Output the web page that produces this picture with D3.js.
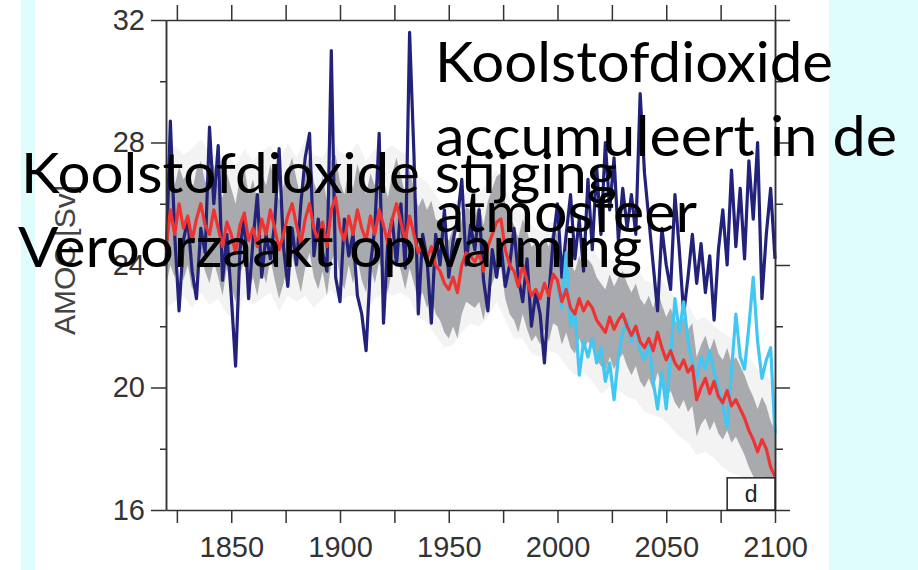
<!DOCTYPE html>
<html>
<head>
<meta charset="utf-8">
<script src="https://cdn.jsdelivr.net/npm/d3@7"></script>
<style>
  body { margin: 0; background: #fff; }
  svg { display: block; }
</style>
</head>
<body>
<svg id="chart"></svg>
<script>
// AMOC strength [Sv] (2-year steps unless noted)
const years = d3.range(1820, 2101, 2);
const yearsOuter = d3.range(1820, 2101, 4);
const yearsProj = d3.range(2000, 2101, 2);

const modelRun = [
  24.0, 28.7, 25.0, 22.5, 24.8, 25.5, 23.8, 22.9, 25.2, 24.4,
  28.5, 26.0, 27.9, 23.5, 25.0, 23.0, 20.7, 24.5, 25.6, 22.9,
  24.8, 26.3, 23.6, 25.0, 24.2, 25.4, 27.8, 24.6, 23.3, 25.2,
  24.0, 26.0, 27.5, 28.3, 24.3, 25.5, 24.4, 23.8, 31.0, 23.6,
  22.8, 25.5, 24.3, 25.0, 23.0, 22.4, 21.2, 24.0, 25.2, 28.3,
  22.1, 24.8, 25.5, 24.0, 26.0, 23.9, 31.6, 27.6, 22.4, 25.0,
  24.2, 22.1, 25.0, 24.0, 25.8, 23.6, 24.8, 25.5, 26.8, 24.0,
  25.3, 24.5, 25.8, 23.5, 22.5, 24.5, 23.6, 24.7, 23.3, 24.0,
  25.2, 23.6, 22.8, 24.2, 22.0, 23.1, 22.4, 20.8, 23.0, 24.8,
  26.0, 23.6, 25.0, 26.3, 24.2, 25.5, 23.8, 26.8, 24.5, 27.2,
  25.0, 28.0, 25.8, 27.5, 24.8, 26.5, 25.2, 26.3, 25.0, 29.6,
  27.0, 25.5, 24.0, 22.5, 25.2, 24.0, 23.2, 26.3, 24.5, 22.4,
  23.6, 25.0, 23.4, 24.7, 23.1, 24.3, 22.2, 24.5, 25.8, 24.0,
  27.1, 24.6, 26.5, 24.2, 27.4, 25.5, 28.0, 22.9, 25.0, 26.5,
  24.2
];

const ensembleMean = [
  24.5, 25.8, 25.0, 26.0, 25.2, 25.6, 24.8, 25.5, 26.0, 25.3,
  25.0, 25.8, 25.2, 24.6, 25.4, 25.0, 24.4, 25.3, 25.7, 24.8,
  25.2, 24.6, 25.5, 25.0, 25.8, 25.2, 24.5, 25.0, 25.6, 26.0,
  25.3, 24.7, 25.5, 26.0, 25.2, 24.8, 25.4, 24.6, 25.8, 26.2,
  25.2, 24.8, 25.6, 25.0, 25.8, 25.2, 24.8, 25.6, 25.0, 25.8,
  25.3, 24.7, 25.5, 26.0, 25.4, 24.8, 25.6, 25.0, 24.4, 24.7,
  24.2, 24.6, 24.0, 23.8, 23.4, 23.2, 23.6, 23.1, 24.0, 24.4,
  24.3, 24.1, 24.4, 23.8, 24.6, 25.0, 25.4, 25.5, 24.5, 24.0,
  23.8, 23.3, 24.0, 23.5, 23.0, 23.2, 22.9, 23.4, 23.0, 23.7,
  23.5, 22.8, 23.2, 22.6, 22.4, 22.9, 22.5, 22.8, 22.6, 22.2,
  22.0, 21.8, 22.3, 21.9, 22.2, 22.4, 22.0, 21.7, 22.0, 21.5,
  21.3, 21.6, 21.2, 21.8, 21.3, 20.9, 21.2, 20.8, 20.6, 20.9,
  20.5, 20.7, 19.6, 20.0, 20.3, 19.8, 20.2, 19.7, 19.5, 19.9,
  19.4, 19.6, 19.3, 19.0, 18.6, 18.3, 17.9, 18.3, 18.0, 17.4,
  17.1
];

// ensemble spread (dark gray core), 2-year steps
const spreadLow = [
  23.3, 24.0, 23.6, 24.2, 23.5, 24.0, 23.2, 23.7, 24.3, 23.8,
  23.4, 24.1, 23.6, 23.0, 23.9, 23.3, 22.8, 23.7, 24.1, 23.1,
  23.6, 23.0, 23.9, 23.4, 24.2, 23.5, 22.9, 23.4, 24.0, 24.3,
  23.7, 23.1, 23.9, 24.4, 23.6, 23.2, 23.8, 23.0, 24.1, 24.5,
  23.6, 23.2, 24.0, 23.4, 24.2, 23.5, 23.1, 24.0, 23.4, 24.1,
  23.7, 23.1, 23.9, 24.3, 23.8, 23.2, 23.9, 23.4, 22.8, 23.1,
  22.6, 23.0, 22.4, 22.2, 21.8, 21.6, 22.0, 21.6, 22.4, 22.8,
  22.7, 22.6, 22.8, 22.2, 23.0, 23.4, 23.8, 23.9, 22.9, 22.4,
  22.2, 21.8, 22.4, 21.9, 21.5, 21.7, 21.4, 21.9, 21.5, 22.1,
  22.0, 21.4, 21.8, 21.3, 21.1, 21.6, 21.2, 21.5, 21.3, 20.9,
  20.7, 20.5, 21.0, 20.6, 20.9, 21.1, 20.7, 20.4, 20.7, 20.2,
  20.0, 20.3, 19.9, 20.5, 20.0, 19.6, 19.9, 19.5, 19.3, 19.6,
  19.2, 19.4, 18.4, 18.8, 19.0, 18.6, 18.9, 18.5, 18.3, 18.6,
  18.2, 18.4, 18.1, 17.8, 17.4, 17.1, 16.8, 17.1, 16.9, 16.4,
  16.2
];
const spreadHigh = [
  26.2, 27.3, 26.6, 27.2, 26.8, 27.0, 26.4, 27.1, 27.4, 26.7,
  26.9, 27.3, 26.6, 26.2, 27.0, 26.5, 26.0, 26.9, 27.2, 26.3,
  26.8, 26.1, 27.0, 26.6, 27.3, 26.7, 26.1, 26.6, 27.1, 27.5,
  26.8, 26.2, 27.0, 27.6, 26.7, 26.3, 26.9, 26.1, 27.4, 27.6,
  26.7, 26.3, 27.1, 26.5, 27.3, 26.8, 26.3, 27.0, 26.6, 27.4,
  26.8, 26.2, 27.0, 27.5, 26.9, 26.3, 27.1, 26.5, 25.9, 26.2,
  25.8, 26.1, 25.5, 25.4, 25.0, 24.8, 25.2, 24.7, 25.5, 25.9,
  25.8, 25.6, 26.0, 25.3, 26.1, 26.5, 26.9, 27.0, 26.0, 25.6,
  25.3, 24.9, 25.5, 25.1, 24.6, 24.7, 24.5, 24.9, 24.6, 25.2,
  25.0, 24.3, 24.6, 24.0, 23.8, 24.3, 23.9, 24.2, 24.0, 23.6,
  23.4, 23.2, 23.7, 23.3, 23.6, 23.8, 23.4, 23.1, 23.4, 22.9,
  22.7, 23.0, 22.6, 23.2, 22.7, 22.3, 22.6, 22.2, 22.0, 22.3,
  21.9, 22.1, 21.0, 21.4, 21.7, 21.2, 21.6, 21.1, 20.9, 21.3,
  20.8, 21.0, 20.7, 20.4, 20.0, 19.7, 19.3, 19.7, 19.4, 18.9,
  18.6
];

// faint outer envelope of the ensemble, 4-year steps
const envelopeLow = [
  22.6, 22.8, 23.0, 22.6, 23.1, 22.7, 22.9, 22.4, 22.2, 23.0,
  22.7, 22.9, 23.1, 22.5, 23.0, 22.8, 23.0, 22.6, 22.9, 23.2,
  22.8, 23.0, 23.0, 22.4, 22.9, 23.1, 23.0, 23.1, 22.9, 22.3,
  22.1, 21.7, 21.3, 21.4, 21.8, 22.1, 22.0, 22.3, 22.8, 22.2,
  21.6, 21.6, 21.1, 21.0, 21.2, 21.1, 20.7, 20.4, 20.5, 20.2,
  19.8, 20.0, 19.9, 19.7, 19.6, 19.2, 19.1, 19.0, 18.7, 18.4,
  18.2, 17.8, 17.9, 17.7, 17.4, 17.2, 17.1, 16.7, 16.3, 16.1,
  16.0
];
const envelopeHigh = [
  27.5, 27.9, 27.6, 27.8, 28.1, 27.7, 27.5, 27.6, 27.2, 27.8,
  27.4, 27.7, 27.9, 27.3, 28.0, 27.5, 28.1, 27.6, 27.5, 28.1,
  27.7, 27.6, 28.0, 27.4, 27.8, 27.7, 27.9, 27.7, 27.6, 26.9,
  26.7, 26.3, 25.8, 26.0, 26.2, 26.6, 26.3, 26.7, 27.1, 26.5,
  25.9, 25.7, 25.3, 25.1, 25.4, 25.4, 25.1, 24.7, 24.6, 24.6,
  24.1, 24.2, 24.1, 24.1, 24.0, 23.5, 23.4, 23.5, 23.1, 22.8,
  22.7, 22.2, 22.3, 22.0, 21.8, 21.6, 21.4, 21.0, 20.6, 20.4,
  20.0
];

const projectionRun = [
  23.3, 22.6, 24.4, 22.0, 22.5, 20.4, 21.5, 21.0, 21.6, 20.8,
  21.3, 20.2, 20.8, 19.6, 21.0, 21.8, 22.2, 21.5, 22.0, 21.2,
  20.9, 21.5, 20.2, 19.3, 20.5, 19.3, 21.0, 22.9, 21.8, 22.8,
  21.5, 20.8, 20.3, 21.0, 20.6, 21.2, 20.5, 20.0, 19.4, 18.7,
  20.5, 22.4, 21.0, 20.6, 22.0, 23.6, 21.5, 20.3, 20.9, 21.3,
  18.5
];

const yMajor = [16, 20, 24, 28, 32];
const yMinor = [18, 22, 26, 30];
const xTicks = d3.range(1825, 2101, 25);
const xLabels = [1850, 1900, 1950, 2000, 2050, 2100];

const width = 918;
const height = 570;

const svg = d3.select("#chart")
  .attr("width", width)
  .attr("height", height);

// slide background
svg.append("rect").attr("width", width).attr("height", height).attr("fill", "#fff");
svg.append("rect").attr("x", 21).attr("y", 0).attr("width", 14).attr("height", height).attr("fill", "#e0fdfd");
svg.append("rect").attr("x", 829).attr("y", 0).attr("width", width - 829).attr("height", height).attr("fill", "#e0fdfd");

const x = d3.scaleLinear().domain([1820, 2100]).range([166, 775]);
const y = d3.scaleLinear().domain([16, 32]).range([510, 20]);

const area = d3.area().x(d => x(d.yr)).y0(d => y(d.lo)).y1(d => y(d.hi));

// faint envelope, then the gray spread
svg.append("path")
  .datum(yearsOuter.map((yr, i) => ({ yr, lo: envelopeLow[i], hi: envelopeHigh[i] })))
  .attr("fill", "#f3f3f4")
  .attr("d", area);
svg.append("path")
  .datum(years.map((yr, i) => ({ yr, lo: spreadLow[i], hi: spreadHigh[i] })))
  .attr("fill", "#a8aaad")
  .attr("d", area);

const line = d3.line().x(d => x(d[0])).y(d => y(d[1]));

svg.append("path")
  .datum(years.map((yr, i) => [yr, modelRun[i]]))
  .attr("fill", "none")
  .attr("stroke", "#22227a")
  .attr("stroke-width", 3.2)
  .attr("stroke-linejoin", "round")
  .attr("d", line);

svg.append("path")
  .datum(yearsProj.map((yr, i) => [yr, projectionRun[i]]))
  .attr("fill", "none")
  .attr("stroke", "#42c6f2")
  .attr("stroke-width", 3.2)
  .attr("stroke-linejoin", "round")
  .attr("d", line);

svg.append("path")
  .datum(years.map((yr, i) => [yr, ensembleMean[i]]))
  .attr("fill", "none")
  .attr("stroke", "#ee3333")
  .attr("stroke-width", 3.2)
  .attr("stroke-linejoin", "round")
  .attr("d", line);

// axes (box with outward ticks)
const axisStyle = g => {
  g.selectAll("path, line").attr("stroke", "#333").attr("stroke-width", 1.5);
  g.selectAll("text")
    .attr("fill", "#333")
    .style("font-family", "'Liberation Sans', Arial, sans-serif")
    .style("font-size", "29px");
};

svg.append("g").attr("transform", "translate(166,0)")
  .call(d3.axisLeft(y).tickValues(yMajor).tickSize(15).tickSizeOuter(0).tickPadding(6))
  .call(axisStyle);
svg.append("g").attr("transform", "translate(166,0)")
  .call(d3.axisLeft(y).tickValues(yMinor).tickSize(6).tickSizeOuter(0).tickFormat(""))
  .call(axisStyle);
svg.append("g").attr("transform", "translate(775,0)")
  .call(d3.axisRight(y).tickValues(yMajor).tickSize(15).tickSizeOuter(0).tickFormat(""))
  .call(axisStyle);
svg.append("g").attr("transform", "translate(775,0)")
  .call(d3.axisRight(y).tickValues(yMinor).tickSize(8).tickSizeOuter(0).tickFormat(""))
  .call(axisStyle);
svg.append("g").attr("transform", "translate(0,20)")
  .call(d3.axisTop(x).tickValues(xTicks).tickSize(15).tickSizeOuter(0).tickFormat(""))
  .call(axisStyle);
svg.append("g").attr("transform", "translate(0,510)")
  .call(d3.axisBottom(x).tickValues(xTicks).tickSize(13).tickSizeOuter(0).tickPadding(13)
    .tickFormat(d => xLabels.includes(d) ? String(d) : ""))
  .call(axisStyle);

svg.append("text")
  .attr("transform", "translate(75,260) rotate(-90)")
  .attr("text-anchor", "middle")
  .attr("fill", "#444")
  .style("font-family", "'Liberation Sans', Arial, sans-serif")
  .style("font-size", "30px")
  .text("AMOC [Sv]");

// panel letter
svg.append("rect")
  .attr("x", x(2078)).attr("y", y(17.05))
  .attr("width", x(2100) - x(2078)).attr("height", y(16) - y(17.05))
  .attr("fill", "#fff").attr("stroke", "#222").attr("stroke-width", 1.5);
svg.append("text")
  .attr("x", x(2089)).attr("y", 502)
  .attr("text-anchor", "middle")
  .attr("fill", "#222")
  .style("font-family", "'Liberation Sans', Arial, sans-serif")
  .style("font-size", "23px")
  .text("d");

// slide text laid over the chart
const captions = [
  { t: "Koolstofdioxide", x: 435, y: 82, w: 398 },
  { t: "accumuleert in de", x: 435, y: 156, w: 462 },
  { t: "atmosfeer", x: 435, y: 232, w: 262 },
  { t: "Koolstofdioxide stijging", x: 21, y: 193, w: 596 },
  { t: "Veroorzaakt opwarming", x: 18, y: 267, w: 624 }
];
svg.selectAll("text.caption")
  .data(captions)
  .enter()
  .append("text")
  .attr("class", "caption")
  .attr("x", d => d.x)
  .attr("y", d => d.y)
  .attr("textLength", d => d.w)
  .attr("lengthAdjust", "spacingAndGlyphs")
  .attr("fill", "#000")
  .style("font-family", "Lato, 'Open Sans', sans-serif")
  .style("font-size", "56px")
  .text(d => d.t);
</script>
</body>
</html>
